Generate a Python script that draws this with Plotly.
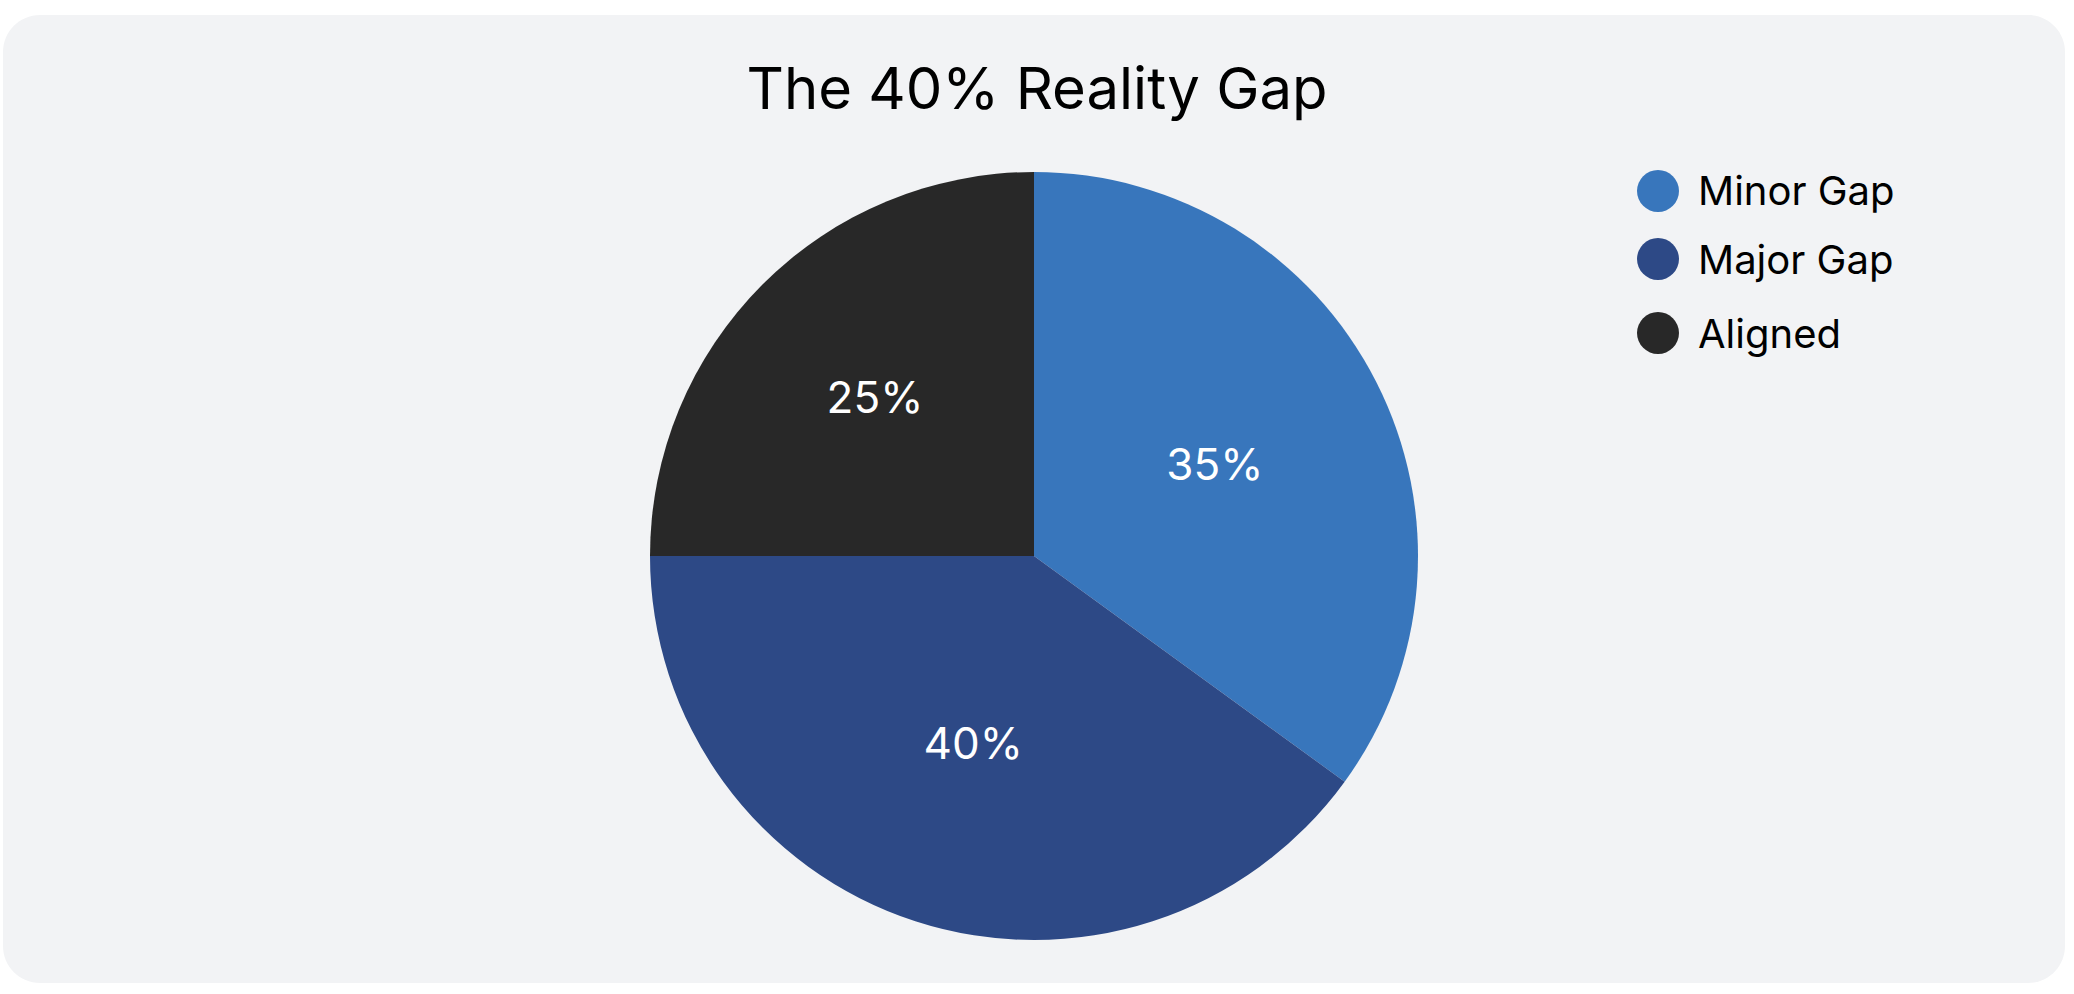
import plotly.graph_objects as go

# ---- data ----
categories = ["Minor Gap", "Major Gap", "Aligned"]
values = [35, 40, 25]
colors = ["#3876bc", "#2d4986", "#282828"]
title_text = "The 40% Reality Gap"

W, H = 2074, 994
FONT = "Inter, 'Noto Sans', sans-serif"

def px_x(x):
    return x / W

def px_y(y):
    return 1 - y / H

fig = go.Figure()

fig.add_trace(go.Pie(
    labels=categories,
    values=values,
    marker=dict(colors=colors, line=dict(width=0)),
    sort=False,
    direction="clockwise",
    rotation=0,
    textinfo="percent",
    texttemplate="%{percent:.0%}",
    textposition="inside",
    insidetextorientation="horizontal",
    insidetextfont=dict(family=FONT, size=44, color="#ffffff"),
    showlegend=False,
    hoverinfo="label+percent",
    domain=dict(x=[px_x(650), px_x(1418)], y=[px_y(940), px_y(172)]),
))

# rounded card background
x0, y0, x1, y1, r = 3, 15, 2065, 983, 37
k = 0.5523 * r
def P(x, y):
    return f"{px_x(x):.6f},{px_y(y):.6f}"
path = (
    f"M {P(x0 + r, y0)} L {P(x1 - r, y0)} "
    f"C {P(x1 - r + k, y0)} {P(x1, y0 + r - k)} {P(x1, y0 + r)} "
    f"L {P(x1, y1 - r)} "
    f"C {P(x1, y1 - r + k)} {P(x1 - r + k, y1)} {P(x1 - r, y1)} "
    f"L {P(x0 + r, y1)} "
    f"C {P(x0 + r - k, y1)} {P(x0, y1 - r + k)} {P(x0, y1 - r)} "
    f"L {P(x0, y0 + r)} "
    f"C {P(x0, y0 + r - k)} {P(x0 + r - k, y0)} {P(x0 + r, y0)} Z"
)
shapes = [dict(type="path", xref="paper", yref="paper", path=path,
               fillcolor="#f2f3f5", line=dict(width=0), layer="below")]

# custom legend with large circle markers
legend_y = [191, 259, 333]
annotations = []
for name, col, ly in zip(categories, colors, legend_y):
    shapes.append(dict(
        type="circle", xref="paper", yref="paper",
        xsizemode="pixel", ysizemode="pixel",
        xanchor=px_x(1658), yanchor=px_y(ly),
        x0=-21, x1=21, y0=-21, y1=21,
        fillcolor=col, line=dict(width=0), layer="above",
    ))
    annotations.append(dict(
        x=px_x(1696), y=px_y(ly), xref="paper", yref="paper",
        xanchor="left", yanchor="middle", showarrow=False,
        text=name, font=dict(family=FONT, size=40, color="#000000"),
    ))

fig.update_layout(
    width=W, height=H,
    margin=dict(l=0, r=0, t=0, b=0),
    paper_bgcolor="#ffffff",
    plot_bgcolor="#ffffff",
    title=dict(text=title_text, x=0.5, xanchor="center",
               y=px_y(89), yanchor="middle",
               font=dict(family=FONT, size=58, color="#000000")),
    shapes=shapes,
    annotations=annotations,
    showlegend=False,
)

fig.write_html("out.html", config={"displayModeBar": False},
               post_script="document.body.style.margin='0';document.body.style.overflow='hidden';")
